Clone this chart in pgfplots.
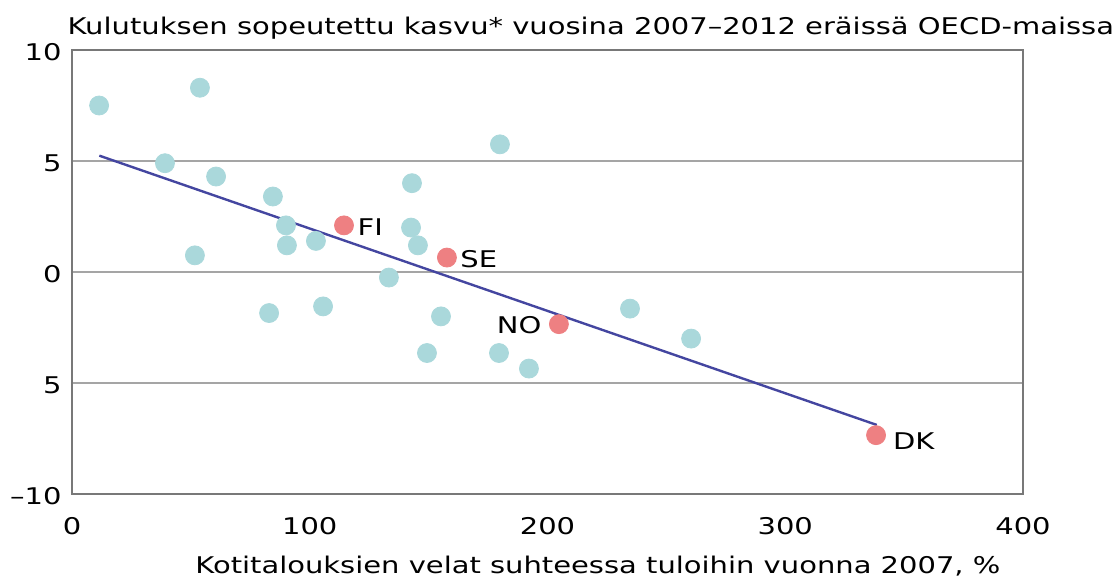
\documentclass[border=0pt]{standalone}
\usepackage{fontspec}
\setmainfont{DejaVu Sans}[FakeStretch=1.26]
\usepackage{pgfplots}
\pgfplotsset{compat=1.18}
\definecolor{dotteal}{RGB}{170,216,219}
\definecolor{dotred}{RGB}{238,128,130}
\definecolor{fitblue}{RGB}{68,70,160}
\definecolor{gridgray}{RGB}{165,165,165}
\definecolor{framegray}{RGB}{120,120,120}
\begin{document}
\begin{tikzpicture}[font=\fontsize{11.5}{13.5}\selectfont]
\useasboundingbox (0,0) rectangle (557.5pt,291pt);
\clip (0,0) rectangle (557.5pt,291pt);
\begin{axis}[
  at={(36pt,44pt)}, anchor=south west,
  scale only axis, width=475.5pt, height=222pt,
  xmin=0, xmax=400, ymin=-10, ymax=10,
  xtick={0,100,200,300,400},
  ytick={-10,-5,0,5,10},
  yticklabels={–10,5,0,5,10},
  /pgf/number format/assume math mode=true,
  tick style={draw=none},
  ymajorgrids, grid style={gridgray, line width=0.6pt},
  axis line style={framegray, line width=0.6pt},
  yticklabel style={anchor=east, xshift=-1.7pt, yshift=-1pt},
  xticklabel style={anchor=north, yshift=-8pt},
  every axis title shift=0pt,
  title={Kulutuksen sopeutettu kasvu* vuosina 2007–2012 eräissä OECD-maissa},
  title style={at={(axis description cs:-0.005,1.034)}, anchor=base west, inner sep=0pt},
  xlabel={Kotitalouksien velat suhteessa tuloihin vuonna 2007, \%},
  xlabel style={at={(axis description cs:0.553,-0.180)}, anchor=base, inner sep=0pt},
  clip=false,
]
\addplot[only marks, mark=*, mark size=4.75pt, color=dotteal, mark options={draw=dotteal, fill=dotteal}] coordinates {
 (11.4,7.5) (53.8,8.3) (39.1,4.9) (60.6,4.3) (84.5,3.4) (90.0,2.1) (90.4,1.2)
 (102.6,1.4) (51.7,0.75) (82.9,-1.85) (105.6,-1.55) (133.3,-0.25) (143.0,4.0)
 (142.6,2.0) (145.5,1.2) (155.2,-2.0) (149.3,-3.65) (180.0,5.75) (179.6,-3.65)
 (192.2,-4.35) (234.7,-1.65) (260.4,-3.0)
};
\addplot[fitblue, line width=1.2pt] coordinates {(11.5,5.24) (338.5,-6.89)};
\addplot[only marks, mark=*, mark size=4.75pt, color=dotred, mark options={draw=dotred, fill=dotred}] coordinates {
 (114.4,2.1) (157.7,0.65) (204.8,-2.35) (338.2,-7.35)
};
\node[anchor=west, inner sep=0pt] at (axis cs:120.0,2.0) {FI};
\node[anchor=west, inner sep=0pt] at (axis cs:163.2,0.6) {SE};
\node[anchor=east, inner sep=0pt] at (axis cs:197.6,-2.4) {NO};
\node[anchor=west, inner sep=0pt] at (axis cs:345.2,-7.6) {DK};
\end{axis}
\end{tikzpicture}
\end{document}
